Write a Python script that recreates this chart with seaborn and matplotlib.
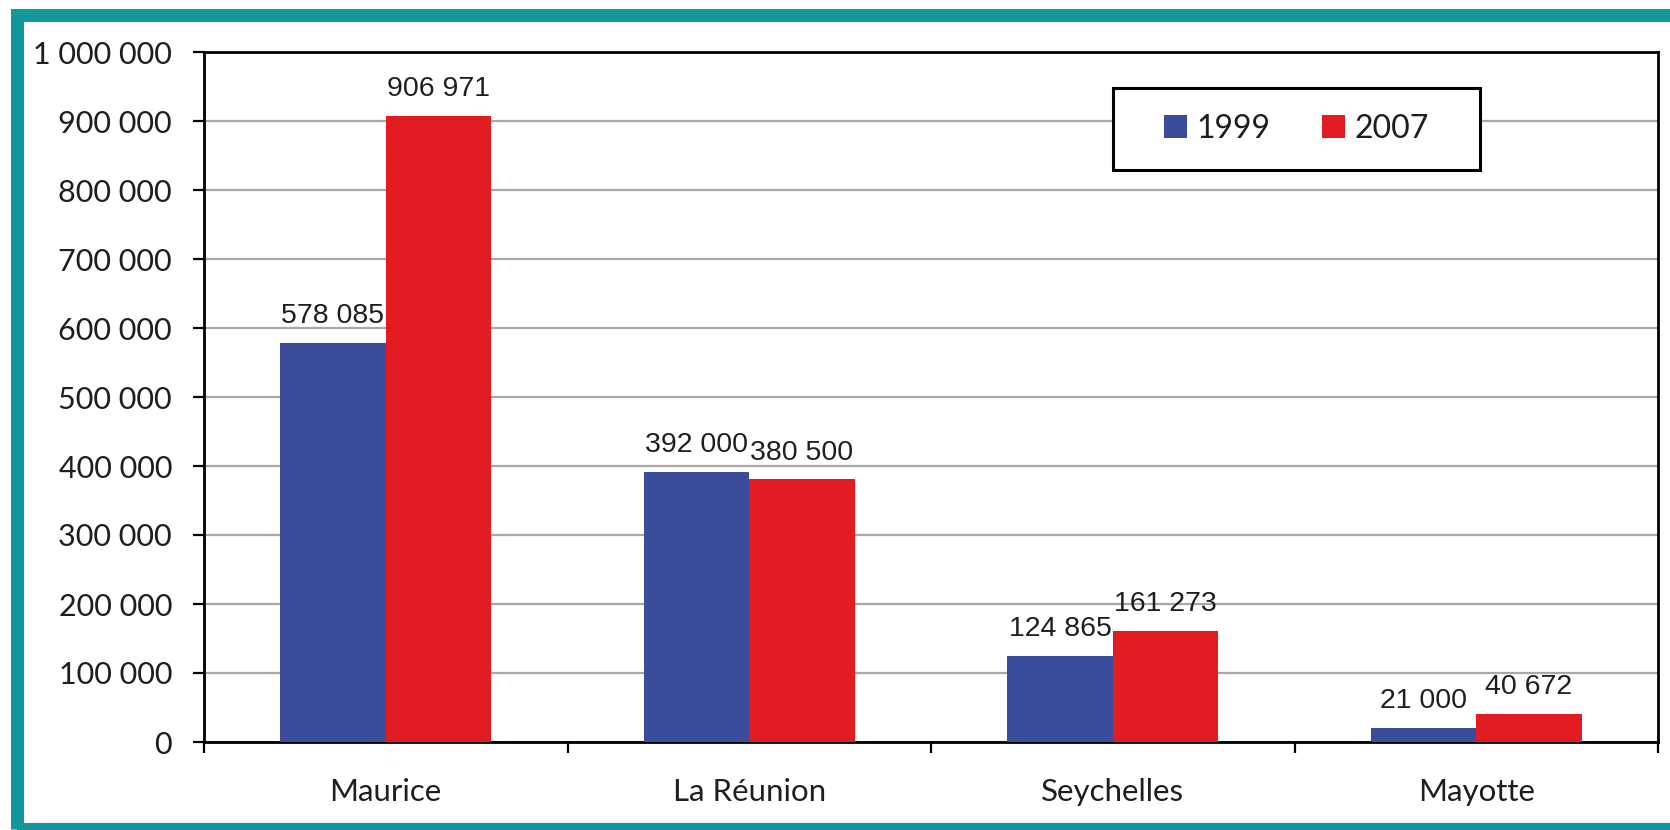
import matplotlib
matplotlib.use("Agg")
import matplotlib.pyplot as plt
from matplotlib.patches import Rectangle
from matplotlib.ticker import FuncFormatter, FixedLocator
import pandas as pd
import seaborn as sns

# Data
countries = ["Maurice", "La Réunion", "Seychelles", "Mayotte"]
years = ["1999", "2007"]
values_1999 = [578085, 392000, 124865, 21000]
values_2007 = [906971, 380500, 161273, 40672]
y_ticks = [0, 100000, 200000, 300000, 400000, 500000, 600000, 700000, 800000, 900000, 1000000]

colors = {"1999": "#3A4C9A", "2007": "#E31B23"}
teal = "#12979C"
text_color = "#1E1E1E"

df = pd.DataFrame({
    "pays": countries * 2,
    "annee": [years[0]] * len(countries) + [years[1]] * len(countries),
    "valeur": values_1999 + values_2007,
})

sns.set_style("white")
plt.rcParams["font.family"] = ["Lato", "DejaVu Sans"]

W, H = 1670, 830
fig = plt.figure(figsize=(W / 100, H / 100), dpi=100)
fig.patch.set_facecolor("white")

# Teal frame around the chart
fig.patches.append(Rectangle((16.5 / W, 1 - 828.5 / H), (1700 - 16.5) / W, (828.5 - 15.5) / H,
                             transform=fig.transFigure, fill=False,
                             edgecolor=teal, linewidth=9.4, zorder=0))

ax = fig.add_axes([204 / W, 1 - 742 / H, (1658 - 204) / W, (742 - 52) / H])

sns.barplot(data=df, x="pays", y="valeur", hue="annee", hue_order=years,
            order=countries, palette=colors, width=0.58, gap=0,
            saturation=1, linewidth=0, edgecolor="none",
            ax=ax, legend=True, zorder=3)

ax.set_xlim(-0.5, len(countries) - 0.5)
ax.set_ylim(0, 1000000)
ax.set_xlabel("")
ax.set_ylabel("")

# Y axis
ax.yaxis.set_major_locator(FixedLocator(y_ticks))
ax.yaxis.set_major_formatter(FuncFormatter(lambda v, p: f"{v:,.0f}".replace(",", " ")))
ax.tick_params(axis="y", direction="out", length=8, width=1.6, color="black",
               labelsize=22, labelcolor=text_color, pad=15, left=True)
ax.yaxis.grid(True, color="#A8A8A8", linewidth=1.6, zorder=0)
ax.set_axisbelow(True)

# X axis: tick marks at category boundaries, labels at centres
ax.xaxis.set_major_locator(FixedLocator([i - 0.5 for i in range(len(countries) + 1)]))
ax.xaxis.set_minor_locator(FixedLocator(list(range(len(countries)))))
ax.xaxis.set_major_formatter(FuncFormatter(lambda v, p: ""))
ax.xaxis.set_minor_formatter(FuncFormatter(lambda v, p: countries[int(round(v))]))
ax.tick_params(axis="x", which="major", direction="out", length=8, width=1.6,
               color="black", bottom=True)
ax.tick_params(axis="x", which="minor", length=0, labelsize=22.5,
               labelcolor=text_color, pad=26)

for side in ["left", "bottom", "top", "right"]:
    ax.spines[side].set_visible(True)
    ax.spines[side].set_color("black")
    ax.spines[side].set_linewidth(2)

# Value labels above bars
for cont, vals in zip(ax.containers, [values_1999, values_2007]):
    ax.bar_label(cont, labels=[f"{v:,}".replace(",", " ") for v in vals],
                 padding=10, fontsize=20.5, color=text_color,
                 family=["Liberation Sans", "DejaVu Sans"])

# Legend in a white box with black frame
handles, labels = ax.get_legend_handles_labels()
ax.get_legend().remove()
lx0, lx1, ly0, ly1 = 1113, 1480, 88, 170
fig.patches.append(Rectangle((lx0 / W, 1 - ly1 / H), (lx1 - lx0) / W, (ly1 - ly0) / H,
                             transform=fig.transFigure, facecolor="white",
                             edgecolor="black", linewidth=2.2, zorder=5))
leg = fig.legend(handles, labels, loc="center",
                 bbox_to_anchor=((lx0 + lx1) / 2 / W, 1 - (ly0 + ly1) / 2 / H),
                 ncol=2, frameon=False, fontsize=23, handlelength=0.72,
                 handleheight=0.72, handletextpad=0.3, columnspacing=1.6,
                 labelcolor=text_color)
leg.set_zorder(6)

fig.savefig("out.png", dpi=100, facecolor="white")
